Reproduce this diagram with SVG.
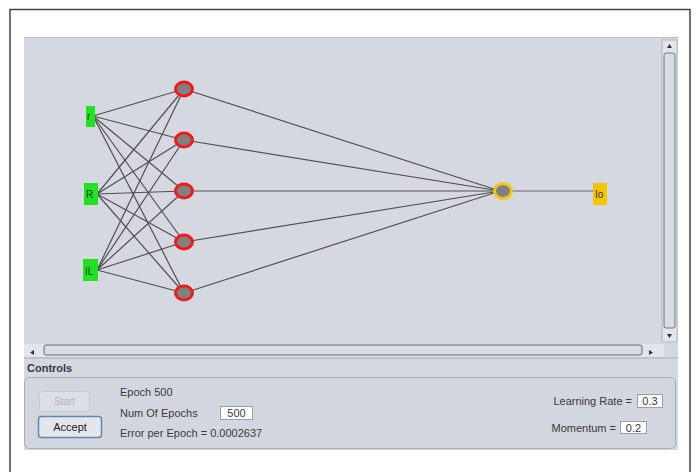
<svg xmlns="http://www.w3.org/2000/svg" width="696" height="472" viewBox="0 0 696 472">
<defs>
<style>
.t{font-family:"Liberation Sans",Arial,sans-serif;font-size:11px;fill:#3a3a3a}
.lbl{font-family:"Liberation Sans",Arial,sans-serif;font-size:10px;fill:#1a3a1a}
.c line{stroke:#505050;stroke-width:1.2}
.hid{fill:#808080;stroke:#ee1c1c;stroke-width:3}
.box{fill:#fff;stroke:#9aa0aa;stroke-width:1}
</style>
</defs>
<rect x="0" y="0" width="696" height="472" fill="#fff"/>
<path d="M10 472 V9.5 H690 V472" fill="none" stroke="#444" stroke-width="1.5"/>
<rect x="24" y="37" width="654" height="413" fill="#d5d8e0"/>
<line x1="24" y1="37.5" x2="678" y2="37.5" stroke="#b8bcc4"/>
<!-- vertical scrollbar -->
<g id="vscroll">
<rect x="662" y="40" width="15" height="302" fill="#e3e5ea" stroke="#b0b4bc"/>
<rect x="664" y="53" width="11" height="275" rx="2" fill="#d9dce2" stroke="#777"/>
<path d="M667 48 l2.5 -4 l2.5 4z" fill="#333"/>
<path d="M667 334 l2.5 4 l2.5 -4z" fill="#333"/>
</g>
<!-- horizontal scrollbar -->
<g id="hscroll">
<rect x="24" y="344" width="640" height="13" fill="#e3e5ea"/>
<rect x="44" y="345" width="598" height="10" rx="2" fill="#d9dce2" stroke="#666"/>
<path d="M34 350 l-4 2.5 l4 2.5z" fill="#333"/>
<path d="M649 350 l4 2.5 l-4 2.5z" fill="#333"/>
<line x1="24" y1="358" x2="678" y2="358" stroke="#a8acb4"/>
</g>
<g class="c" id="connectors">
<line x1="93" y1="116" x2="184" y2="89"/>
<line x1="93" y1="116" x2="184" y2="140"/>
<line x1="93" y1="116" x2="184" y2="191"/>
<line x1="93" y1="116" x2="184" y2="242"/>
<line x1="93" y1="116" x2="184" y2="293"/>
<line x1="97" y1="194" x2="184" y2="89"/>
<line x1="97" y1="194" x2="184" y2="140"/>
<line x1="97" y1="194" x2="184" y2="191"/>
<line x1="97" y1="194" x2="184" y2="242"/>
<line x1="97" y1="194" x2="184" y2="293"/>
<line x1="97" y1="270" x2="184" y2="89"/>
<line x1="97" y1="270" x2="184" y2="140"/>
<line x1="97" y1="270" x2="184" y2="191"/>
<line x1="97" y1="270" x2="184" y2="242"/>
<line x1="97" y1="270" x2="184" y2="293"/>
<line x1="184" y1="89" x2="494" y2="189"/>
<line x1="184" y1="140" x2="494" y2="190"/>
<line x1="184" y1="191" x2="494" y2="191"/>
<line x1="184" y1="242" x2="494" y2="192"/>
<line x1="184" y1="293" x2="494" y2="193"/>
<line x1="503" y1="191" x2="594" y2="191" style="stroke:#666"/>
</g>
<g id="in1"><rect x="86" y="106" width="9" height="21" fill="#22e022"/><text class="lbl" x="87" y="120">r</text></g>
<g id="in2"><rect x="84" y="183" width="14" height="22" fill="#22e022"/><text class="lbl" x="86" y="198">R</text></g>
<g id="in3"><rect x="83" y="259" width="15" height="22" fill="#22e022"/><text class="lbl" x="85" y="275">IL</text></g>
<g id="h1"><ellipse class="hid" cx="184" cy="89" rx="8.5" ry="7"/></g>
<g id="h2"><ellipse class="hid" cx="184" cy="140" rx="8.5" ry="7"/></g>
<g id="h3"><ellipse class="hid" cx="184" cy="191" rx="8.5" ry="7"/></g>
<g id="h4"><ellipse class="hid" cx="184" cy="242" rx="8.5" ry="7"/></g>
<g id="h5"><ellipse class="hid" cx="184" cy="293" rx="8.5" ry="7"/></g>
<g id="out"><ellipse cx="503" cy="191" rx="8.5" ry="7.5" fill="#808080" stroke="#f5c518" stroke-width="3"/></g>
<g id="outlabel"><rect x="593" y="183" width="14" height="22" fill="#f5c400"/><text class="lbl" x="595" y="198" style="fill:#3a2a00">Io</text></g>
<!-- controls -->
<g id="controls">
<text class="t" x="27" y="372" style="font-weight:bold;fill:#2d3a4a">Controls</text>
<rect x="24.5" y="377.5" width="651" height="71" rx="5" fill="#d3d6de" stroke="#a8acb6"/>
<g id="start"><rect x="39.5" y="391.5" width="50" height="20" rx="3" fill="#dcdfe5" stroke="#c4c8d0"/><text class="t" x="64.5" y="405" text-anchor="middle" style="fill:#b0b4bc;font-size:10px">Start</text></g>
<g id="accept"><rect x="38.5" y="416.5" width="63" height="21" rx="3" fill="#e4e6eb" stroke="#5a86b8" stroke-width="1.5"/><text class="t" x="70" y="431" text-anchor="middle" style="fill:#222">Accept</text></g>
<text class="t" x="120" y="396">Epoch  500</text>
<text class="t" x="120" y="417">Num Of Epochs</text>
<rect class="box" x="220.5" y="406.5" width="32" height="13"/>
<text class="t" x="236.5" y="417" text-anchor="middle">500</text>
<text class="t" x="120" y="437">Error per Epoch = 0.0002637</text>
<text class="t" x="632" y="405" text-anchor="end">Learning Rate =</text>
<rect class="box" x="637.5" y="394.5" width="25" height="13"/>
<text class="t" x="650" y="405" text-anchor="middle">0.3</text>
<text class="t" x="616" y="432" text-anchor="end">Momentum =</text>
<rect class="box" x="620.5" y="421.5" width="26" height="12"/>
<text class="t" x="633.5" y="431.5" text-anchor="middle">0.2</text>
</g>
</svg>
